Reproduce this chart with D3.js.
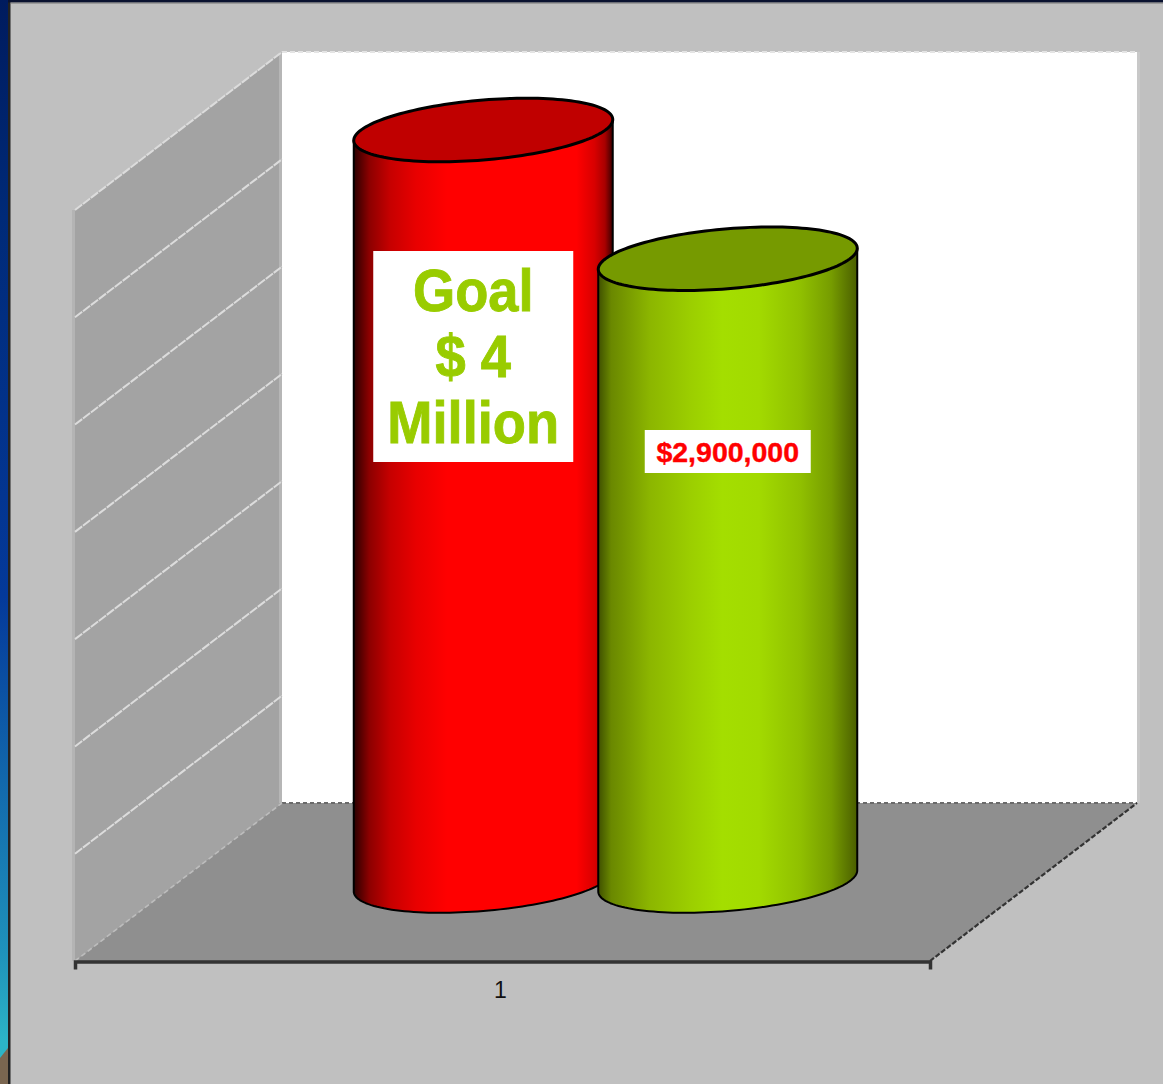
<!DOCTYPE html>
<html>
<head>
<meta charset="utf-8">
<script src="https://cdnjs.cloudflare.com/ajax/libs/d3/7.8.5/d3.min.js"></script>
<style>
html,body{margin:0;padding:0;background:#c0c0c0;overflow:hidden}
svg{display:block}
text{font-family:"Liberation Sans",Arial,sans-serif}
</style>
</head>
<body>
<svg id="c" width="1163" height="1084"></svg>
<script>
// Data (the cylinder tops sit at these heights on the 7-band wall)
const categories = ["1"];
const seriesNames = ["Goal", "Raised"];
const seriesValues = [3500000, 2900000];
const gridTicks = [0, 500000, 1000000, 1500000, 2000000, 2500000, 3000000, 3500000];
const goalLabelLines = ["Goal", "$ 4", "Million"];
const raisedLabel = "$2,900,000";

const svg = d3.select("#c");
const W = 1163, H = 1084;
const defs = svg.append("defs");

// Scales
const y = d3.scaleLinear().domain([0, 3500000]).range([961, 210]);
const xCat = d3.scaleBand().domain(categories).range([75, 930]);
const xBar = d3.scaleBand().domain(seriesNames).range([361, 850]);
const depth = {dx: 207, dy: -158};        // wall/floor projection
const barLift = 80;                       // bars stand mid-way into the floor
const halfW = 129.5, minorB = 30, skew = 10.5;

// Backdrop
const strip = defs.append("linearGradient").attr("id","strip").attr("x1",0).attr("x2",0).attr("y1",0).attr("y2",1);
[[0,"#001b5e"],[0.2,"#002a78"],[0.55,"#04399a"],[0.72,"#1268ac"],[0.88,"#1f92bb"],[0.96,"#2cb4c6"]]
  .forEach(s => strip.append("stop").attr("offset",s[0]).attr("stop-color",s[1]));
svg.append("rect").attr("width",W).attr("height",H).attr("fill","#c0c0c0");
svg.append("rect").attr("width",8).attr("height",H).attr("fill","url(#strip)");
svg.append("path").attr("d","M0,1058L8,1048V1084H0Z").attr("fill","#7a6650");
svg.append("rect").attr("x",8).attr("width",2.5).attr("height",H).attr("fill","#222");
svg.append("rect").attr("x",8).attr("width",W-8).attr("height",2.5).attr("fill","#0a1230");
svg.append("rect").attr("x",10.5).attr("y",2.5).attr("width",W-10).attr("height",1).attr("fill","#777");

// Back wall
const x0 = xCat.range()[0], x1 = xCat.range()[1];
const yBase = y(0), yTop = y(3500000);
svg.append("rect").attr("x",x0+depth.dx).attr("y",yTop+depth.dy)
  .attr("width",x1-x0).attr("height",yBase-yTop).attr("fill","#fff");
svg.append("rect").attr("x",x1+depth.dx).attr("y",yTop+depth.dy)
  .attr("width",3).attr("height",yBase-yTop).attr("fill","#c8c8c8");
svg.append("line").attr("x1",x0+depth.dx).attr("x2",x1+depth.dx)
  .attr("y1",yTop+depth.dy).attr("y2",yTop+depth.dy)
  .attr("stroke","#e4e4e4").attr("stroke-width",2).attr("stroke-dasharray","5 3");

// Side wall
svg.append("path")
  .attr("d",`M${x0},${yBase}L${x0},${yTop}L${x0+depth.dx},${yTop+depth.dy}L${x0+depth.dx},${yBase+depth.dy}Z`)
  .attr("fill","#a3a3a3");
svg.append("rect").attr("x",x0-3).attr("y",yTop).attr("width",3).attr("height",yBase-yTop).attr("fill","#b4b4b4");
svg.append("rect").attr("x",x0+depth.dx-3).attr("y",yTop+depth.dy).attr("width",3).attr("height",yBase-yTop).attr("fill","#b6b6b6");

// Floor
svg.append("path")
  .attr("d",`M${x0},${yBase}L${x1},${yBase}L${x1+depth.dx},${yBase+depth.dy}L${x0+depth.dx},${yBase+depth.dy}Z`)
  .attr("fill","#8f8f8f");
svg.append("line").attr("x1",x0+depth.dx).attr("x2",x1+depth.dx)
  .attr("y1",yBase+depth.dy).attr("y2",yBase+depth.dy)
  .attr("stroke","#6a6a6a").attr("stroke-width",2).attr("stroke-dasharray","4 3");
svg.append("line").attr("x1",x1).attr("x2",x1+depth.dx)
  .attr("y1",yBase).attr("y2",yBase+depth.dy)
  .attr("stroke","#333").attr("stroke-width",2.2).attr("stroke-dasharray","5 2");
svg.append("line").attr("x1",x0).attr("x2",x0+depth.dx)
  .attr("y1",yBase).attr("y2",yBase+depth.dy)
  .attr("stroke","#bdbdbd").attr("stroke-width",1.6).attr("stroke-dasharray","5 3");

// Wall gridlines
svg.selectAll("line.grid").data(gridTicks.slice(1)).join("line").attr("class","grid")
  .attr("x1",x0).attr("x2",x0+depth.dx)
  .attr("y1",d=>y(d)).attr("y2",d=>y(d)+depth.dy)
  .attr("stroke","#dcdcdc").attr("stroke-width",2).attr("stroke-dasharray","9 1");

// Cylinder gradients
const gradStops = {
  "Goal":[[0,"#2a0000"],[0.06,"#8c0000"],[0.14,"#c60000"],[0.24,"#e80000"],[0.36,"#ff0000"],[0.86,"#ff0000"],[0.93,"#d80000"],[0.97,"#a80000"],[1,"#3a0000"]],
  "Raised":[[0,"#3f5000"],[0.05,"#6a8800"],[0.2,"#8cb600"],[0.36,"#9ccf00"],[0.48,"#a4de00"],[0.62,"#a2da00"],[0.78,"#90c000"],[0.9,"#769c00"],[1,"#4a5e00"]]
};
const topColor = {"Goal":"#c00000","Raised":"#769a00"};
seriesNames.forEach((n,i)=>{
  const g = defs.append("linearGradient").attr("id","g"+i);
  gradStops[n].forEach(s=>g.append("stop").attr("offset",s[0]).attr("stop-color",s[1]));
});

// Cylinders
const ellipsePoint = (cx,cy,t)=>[cx+halfW*Math.cos(t), cy+minorB*Math.sin(t)-skew*Math.cos(t)];
const line = d3.line();
const frontAngles = d3.range(0, Math.PI+0.001, Math.PI/72);
const allAngles = d3.range(0, 2*Math.PI+0.001, Math.PI/72);

seriesNames.forEach((n,i)=>{
  const cx = xBar(n)+xBar.bandwidth()/2;
  const cyTop = y(seriesValues[i])-barLift;
  const cyBot = y(0)-barLift;
  const g = svg.append("g").attr("class","cyl");
  const body = [ellipsePoint(cx,cyTop,Math.PI)]
    .concat(frontAngles.slice().reverse().map(t=>ellipsePoint(cx,cyBot,t)))
    .concat([ellipsePoint(cx,cyTop,0)]);
  g.append("path").attr("d",line(body)+"Z").attr("fill",`url(#g${i})`)
    .attr("stroke","#000").attr("stroke-width",2).attr("stroke-linejoin","round");
  g.append("path").attr("d",line(allAngles.map(t=>ellipsePoint(cx,cyTop,t)))+"Z")
    .attr("fill",topColor[n]).attr("stroke","#000").attr("stroke-width",3);
});

// Category axis
const axis = d3.axisBottom(xCat).tickSize(0).tickSizeOuter(8).tickPadding(20);
const ax = svg.append("g").attr("transform",`translate(0,${yBase+0.5})`).call(axis);
ax.select(".domain").attr("stroke","#333").attr("stroke-width",3.5).attr("fill","none");
ax.selectAll(".tick text").attr("font-size",23).attr("fill","#111").attr("dx",-2);

// Labels
const goalX = xBar("Goal")+xBar.bandwidth()/2 - 10;
svg.append("rect").attr("x",goalX-100).attr("y",251).attr("width",200).attr("height",211).attr("fill","#fff");
const goalBaselines = d3.scalePoint().domain(goalLabelLines).range([311,443]);
svg.selectAll("text.goal").data(goalLabelLines).join("text").attr("class","goal")
  .attr("transform",d=>`translate(${goalX},${goalBaselines(d)}) scale(0.92,1)`)
  .attr("text-anchor","middle").attr("font-size",59).attr("font-weight",700)
  .attr("fill","#99cc00").attr("stroke","#99cc00").attr("stroke-width",0.9).text(d=>d);

const raisedX = xBar("Raised")+xBar.bandwidth()/2;
svg.append("rect").attr("x",raisedX-83).attr("y",430).attr("width",166).attr("height",43).attr("fill","#fff");
svg.append("text").attr("x",raisedX).attr("y",462).attr("text-anchor","middle")
  .attr("font-size",28.5).attr("font-weight",700).attr("fill","#ff0000")
  .attr("stroke","#ff0000").attr("stroke-width",0.4).text(raisedLabel);
</script>
</body>
</html>
